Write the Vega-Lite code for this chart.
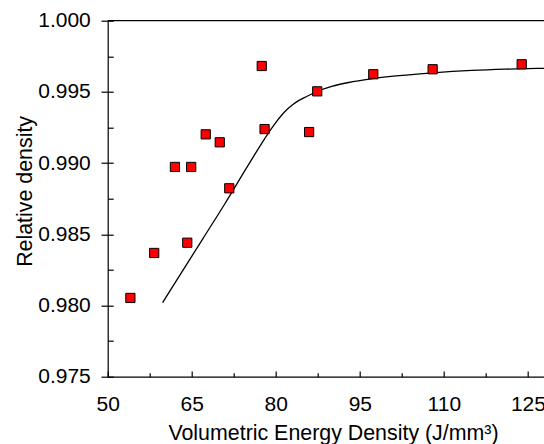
{
  "$schema": "https://vega.github.io/schema/vega-lite/v6.json",
  "width": 437,
  "height": 356,
  "autosize": {"type": "none"},
  "padding": {"left": 107.7, "top": 20.7, "right": 0, "bottom": 67.3},
  "background": "white",
  "config": {
    "view": {"stroke": null},
    "axis": {
      "labelFont": "Liberation Sans",
      "titleFont": "Liberation Sans",
      "labelFontSize": 21,
      "titleFontSize": 21.4,
      "labelColor": "black",
      "titleColor": "black",
      "titleFontWeight": "normal",
      "domainColor": "black",
      "tickColor": "black",
      "grid": false,
      "domainWidth": 1.2,
      "tickWidth": 1.2,
      "labelFlush": false,
      "labelOverlap": false
    }
  },
  "datasets": {
    "points": [
      {"ved": 54.05, "rd": 0.98053},
      {"ved": 58.3, "rd": 0.98369},
      {"ved": 62.0, "rd": 0.98973},
      {"ved": 64.2, "rd": 0.98441},
      {"ved": 64.9, "rd": 0.98973},
      {"ved": 67.5, "rd": 0.99202},
      {"ved": 70.0, "rd": 0.99146},
      {"ved": 71.7, "rd": 0.98823},
      {"ved": 77.5, "rd": 0.99682},
      {"ved": 78.0, "rd": 0.99239},
      {"ved": 85.95, "rd": 0.99218},
      {"ved": 87.4, "rd": 0.99504},
      {"ved": 97.4, "rd": 0.99624},
      {"ved": 108.0, "rd": 0.99659},
      {"ved": 123.9, "rd": 0.99694}
    ],
    "fit": [
      {"ved": 59.8, "rd": 0.9802},
      {"ved": 63, "rd": 0.9822},
      {"ved": 67, "rd": 0.9847},
      {"ved": 71, "rd": 0.9872},
      {"ved": 75, "rd": 0.9898},
      {"ved": 78, "rd": 0.9917},
      {"ved": 79, "rd": 0.9923},
      {"ved": 80, "rd": 0.99285},
      {"ved": 81, "rd": 0.99334},
      {"ved": 82, "rd": 0.99376},
      {"ved": 83, "rd": 0.99410},
      {"ved": 84, "rd": 0.99437},
      {"ved": 85.5, "rd": 0.99468},
      {"ved": 87.4, "rd": 0.99503},
      {"ved": 90, "rd": 0.99538},
      {"ved": 93, "rd": 0.99566},
      {"ved": 97, "rd": 0.99592},
      {"ved": 102, "rd": 0.99614},
      {"ved": 108, "rd": 0.99634},
      {"ved": 115, "rd": 0.99651},
      {"ved": 121, "rd": 0.99660},
      {"ved": 128, "rd": 0.99666}
    ]
  },
  "layer": [
    {
      "data": {"values": [{}]},
      "mark": {"type": "rule", "color": "black", "strokeWidth": 1.2},
      "encoding": {
        "y": {"datum": 1.0, "type": "quantitative", "scale": {"domain": [0.975, 1.0], "nice": false, "zero": false}, "axis": null}
      }
    },
    {
      "data": {"name": "fit"},
      "mark": {"type": "line", "color": "black", "strokeWidth": 1.3, "interpolate": "monotone"},
      "encoding": {
        "x": {"field": "ved", "type": "quantitative", "scale": {"domain": [50, 128], "nice": false, "zero": false},
          "axis": {"orient": "bottom", "values": [57.5, 72.5, 87.5, 102.5, 117.5], "tickSize": -4, "labels": false, "domain": false, "title": null}},
        "y": {"field": "rd", "type": "quantitative", "scale": {"domain": [0.975, 1.0], "nice": false, "zero": false},
          "axis": {"orient": "left", "values": [0.975, 0.9775, 0.98, 0.9825, 0.985, 0.9875, 0.99, 0.9925, 0.995, 0.9975, 1.0], "tickSize": -5.5, "labels": false, "domain": false, "title": null}}
      }
    },
    {
      "data": {"name": "points"},
      "mark": {"type": "point", "shape": "square", "filled": true, "fill": "#ff0000", "stroke": "black", "strokeWidth": 1, "size": 85, "opacity": 1},
      "encoding": {
        "x": {"field": "ved", "type": "quantitative", "scale": {"domain": [50, 128], "nice": false, "zero": false},
          "axis": {"orient": "bottom", "values": [50, 65, 80, 95, 110, 125], "tickSize": -5.7, "labelPadding": 22.4,
            "title": "Volumetric Energy Density (J/mm³)", "titleX": 225.3, "titleY": 63.3, "titleBaseline": "alphabetic"}},
        "y": {"field": "rd", "type": "quantitative", "scale": {"domain": [0.975, 1.0], "nice": false, "zero": false},
          "axis": {"orient": "left", "values": [0.975, 0.98, 0.985, 0.99, 0.995, 1.0], "format": ".3f", "tickSize": 6.7, "labelPadding": 10.7,
            "title": "Relative density", "titleX": -76.5, "titleY": 170.2, "titleBaseline": "alphabetic"}}
      }
    }
  ],
  "resolve": {"axis": {"x": "independent", "y": "independent"}}
}
